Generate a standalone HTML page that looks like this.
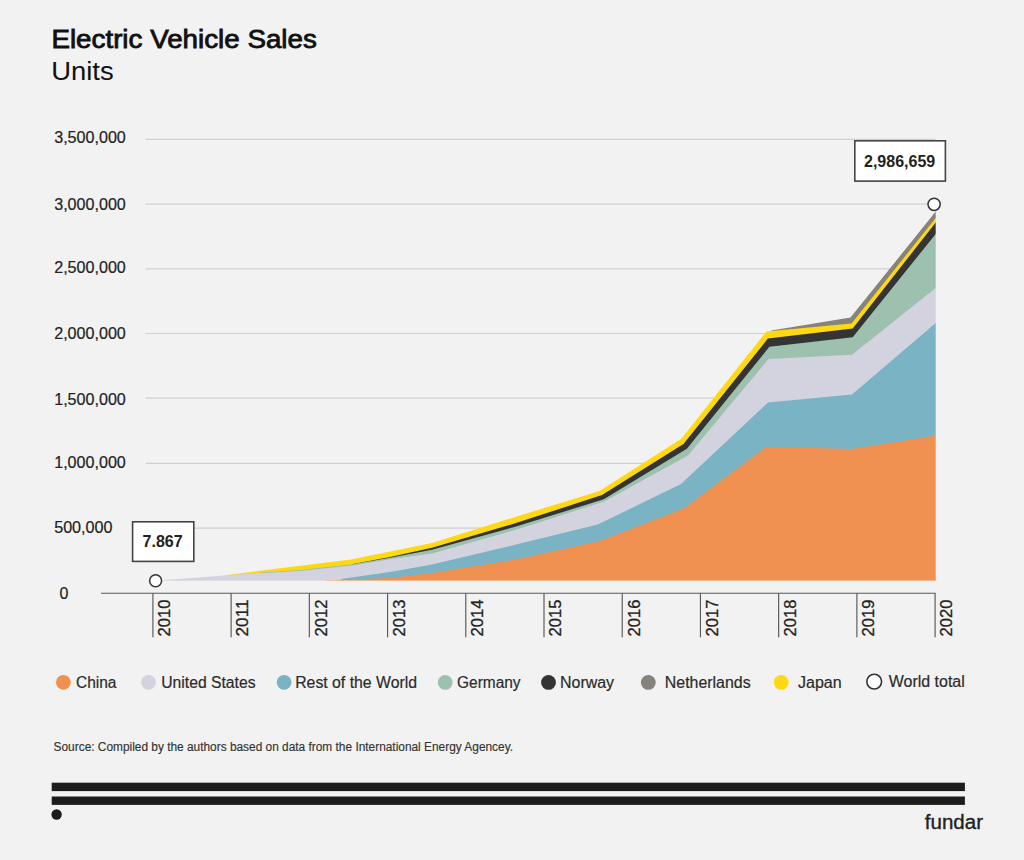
<!DOCTYPE html>
<html><head><meta charset="utf-8"><title>Electric Vehicle Sales</title>
<style>
html,body{margin:0;padding:0;background:#f2f2f2;}
body{width:1024px;height:860px;overflow:hidden;font-family:"Liberation Sans",sans-serif;}
svg{display:block}
text{font-family:"Liberation Sans",sans-serif;fill:#1f1f1f}
.ttl{font-size:25px;fill:#111;stroke:#111;stroke-width:.8px;stroke-linejoin:miter}
.sub{font-size:25px;fill:#111}
.yl{font-size:16px;fill:#222;stroke:#222;stroke-width:.2px}
.yr{font-size:16px;fill:#222;stroke:#222;stroke-width:.3px}
.lg{font-size:16px;fill:#2b2b2b;stroke:#2b2b2b;stroke-width:.2px}
.bx{font-size:16px;font-weight:bold;fill:#222}
.src{font-size:12px;fill:#333;stroke:#333;stroke-width:.15px}
.fd{font-size:20px;fill:#222;stroke:#222;stroke-width:.35px}
</style></head>
<body>
<svg width="1024" height="860" viewBox="0 0 1024 860">
<rect width="1024" height="860" fill="#f2f2f2"/>
<text x="51.4" y="48.0" class="ttl" textLength="265.5" lengthAdjust="spacingAndGlyphs">Electric Vehicle Sales</text>
<text x="51.2" y="79.6" class="sub" textLength="62.5" lengthAdjust="spacingAndGlyphs">Units</text>
<line x1="145.6" y1="139.3" x2="935.5" y2="139.3" stroke="#cfcfcf" stroke-width="1.2"/>
<line x1="145.6" y1="204.1" x2="935.5" y2="204.1" stroke="#cfcfcf" stroke-width="1.2"/>
<line x1="145.6" y1="268.8" x2="935.5" y2="268.8" stroke="#cfcfcf" stroke-width="1.2"/>
<line x1="145.6" y1="333.5" x2="935.5" y2="333.5" stroke="#cfcfcf" stroke-width="1.2"/>
<line x1="145.6" y1="398.2" x2="935.5" y2="398.2" stroke="#cfcfcf" stroke-width="1.2"/>
<line x1="145.6" y1="463.4" x2="935.5" y2="463.4" stroke="#cfcfcf" stroke-width="1.2"/>
<line x1="145.6" y1="528.1" x2="935.5" y2="528.1" stroke="#cfcfcf" stroke-width="1.2"/>
<text x="54.2" y="142.5" class="yl" textLength="71.6" lengthAdjust="spacingAndGlyphs">3,500,000</text>
<text x="54.2" y="209.6" class="yl" textLength="71.6" lengthAdjust="spacingAndGlyphs">3,000,000</text>
<text x="54.2" y="272.6" class="yl" textLength="71.6" lengthAdjust="spacingAndGlyphs">2,500,000</text>
<text x="54.2" y="339.0" class="yl" textLength="71.6" lengthAdjust="spacingAndGlyphs">2,000,000</text>
<text x="54.2" y="404.7" class="yl" textLength="71.6" lengthAdjust="spacingAndGlyphs">1,500,000</text>
<text x="54.2" y="468.4" class="yl" textLength="71.6" lengthAdjust="spacingAndGlyphs">1,000,000</text>
<text x="54.2" y="532.6" class="yl" textLength="58.3" lengthAdjust="spacingAndGlyphs">500,000</text>
<text x="59.5" y="599.0" class="yl">0</text>
<polygon points="771.3,330.5 850.5,317.5 935.7,211.6 937.7,209.1 937.7,582.6 771.3,582.6" fill="#86837c"/>
<polygon points="225.8,575.2 264.0,570.2 300.0,565.7 351.0,559.6 432.0,543.0 516.0,516.7 599.5,491.0 681.3,438.7 766.4,331.6 851.6,323.4 935.7,218.0 937.7,215.5 937.7,582.6 225.8,582.6" fill="#ffd814"/>
<polygon points="352.0,564.3 390.0,556.9 432.0,547.8 516.0,523.1 602.0,495.0 683.5,443.9 767.9,338.6 852.7,328.6 935.7,222.4 937.7,219.8 937.7,582.6 352.0,582.6" fill="#343434"/>
<polygon points="260.0,572.6 300.0,569.9 352.0,564.3 390.0,557.7 432.0,549.7 516.0,526.6 603.8,499.3 686.9,448.7 769.4,346.8 852.7,337.2 935.7,234.0 937.7,231.5 937.7,582.6 260.0,582.6" fill="#9dc1ae"/>
<polygon points="163.0,580.0 200.0,577.5 225.8,575.2 264.0,573.0 300.0,570.9 352.0,565.6 390.0,559.3 432.0,553.4 516.0,529.8 604.3,501.5 688.0,455.4 768.6,359.1 852.0,354.7 935.7,288.0 937.7,286.4 937.7,582.6 163.0,582.6" fill="#d3d3df"/>
<polygon points="341.0,579.0 390.0,572.0 432.0,564.6 516.0,544.6 597.8,524.5 681.0,484.0 768.0,402.5 852.0,394.5 935.7,323.0 937.7,321.3 937.7,582.6 341.0,582.6" fill="#7ab3c4"/>
<polygon points="325.0,580.4 390.0,577.9 432.0,573.1 516.0,559.5 600.0,541.0 684.0,508.5 766.0,447.0 852.0,449.0 935.7,435.7 937.7,435.4 937.7,582.6 325.0,582.6" fill="#f09151"/>
<rect x="150" y="580.6" width="800" height="4" fill="#f2f2f2"/>
<rect x="935.7" y="200" width="4" height="385" fill="#f2f2f2"/>
<line x1="101" y1="593.2" x2="935.6" y2="593.2" stroke="#585858" stroke-width="1.15"/>
<line x1="152.90" y1="593.2" x2="152.90" y2="637.3" stroke="#585858" stroke-width="1.15"/>
<line x1="231.12" y1="593.2" x2="231.12" y2="637.3" stroke="#585858" stroke-width="1.15"/>
<line x1="309.34" y1="593.2" x2="309.34" y2="637.3" stroke="#585858" stroke-width="1.15"/>
<line x1="387.56" y1="593.2" x2="387.56" y2="637.3" stroke="#585858" stroke-width="1.15"/>
<line x1="465.78" y1="593.2" x2="465.78" y2="637.3" stroke="#585858" stroke-width="1.15"/>
<line x1="544.00" y1="593.2" x2="544.00" y2="637.3" stroke="#585858" stroke-width="1.15"/>
<line x1="622.22" y1="593.2" x2="622.22" y2="637.3" stroke="#585858" stroke-width="1.15"/>
<line x1="700.44" y1="593.2" x2="700.44" y2="637.3" stroke="#585858" stroke-width="1.15"/>
<line x1="778.66" y1="593.2" x2="778.66" y2="637.3" stroke="#585858" stroke-width="1.15"/>
<line x1="856.88" y1="593.2" x2="856.88" y2="637.3" stroke="#585858" stroke-width="1.15"/>
<line x1="935.10" y1="593.2" x2="935.10" y2="637.3" stroke="#585858" stroke-width="1.15"/>
<text class="yr" textLength="36.8" lengthAdjust="spacingAndGlyphs" transform="translate(170.20,636.4) rotate(-90)">2010</text>
<text class="yr" textLength="36.8" lengthAdjust="spacingAndGlyphs" transform="translate(248.42,636.4) rotate(-90)">2011</text>
<text class="yr" textLength="36.8" lengthAdjust="spacingAndGlyphs" transform="translate(326.64,636.4) rotate(-90)">2012</text>
<text class="yr" textLength="36.8" lengthAdjust="spacingAndGlyphs" transform="translate(404.86,636.4) rotate(-90)">2013</text>
<text class="yr" textLength="36.8" lengthAdjust="spacingAndGlyphs" transform="translate(483.08,636.4) rotate(-90)">2014</text>
<text class="yr" textLength="36.8" lengthAdjust="spacingAndGlyphs" transform="translate(561.30,636.4) rotate(-90)">2015</text>
<text class="yr" textLength="36.8" lengthAdjust="spacingAndGlyphs" transform="translate(639.52,636.4) rotate(-90)">2016</text>
<text class="yr" textLength="36.8" lengthAdjust="spacingAndGlyphs" transform="translate(717.74,636.4) rotate(-90)">2017</text>
<text class="yr" textLength="36.8" lengthAdjust="spacingAndGlyphs" transform="translate(795.96,636.4) rotate(-90)">2018</text>
<text class="yr" textLength="36.8" lengthAdjust="spacingAndGlyphs" transform="translate(874.18,636.4) rotate(-90)">2019</text>
<text class="yr" textLength="36.8" lengthAdjust="spacingAndGlyphs" transform="translate(952.40,636.4) rotate(-90)">2020</text>
<rect x="132.6" y="521.8" width="61.2" height="39.6" fill="#fff" stroke="#444" stroke-width="1.6"/>
<text x="142.6" y="547.2" class="bx">7.867</text>
<circle cx="155.6" cy="580.7" r="6.0" fill="#fff" stroke="#333" stroke-width="1.5"/>
<rect x="854.8" y="140.8" width="90.6" height="40.3" fill="#fff" stroke="#444" stroke-width="1.6"/>
<text x="864.0" y="166.6" class="bx">2,986,659</text>
<circle cx="934.1" cy="204.3" r="6.1" fill="#fff" stroke="#333" stroke-width="1.5"/>
<circle cx="63.4" cy="682.3" r="7.4" fill="#f09151"/>
<text x="76.0" y="688.0" class="lg" textLength="40.5" lengthAdjust="spacingAndGlyphs">China</text>
<circle cx="148.6" cy="682.3" r="7.4" fill="#d3d3df"/>
<text x="161.2" y="688.0" class="lg" textLength="94.4" lengthAdjust="spacingAndGlyphs">United States</text>
<circle cx="284.1" cy="682.3" r="7.4" fill="#7ab3c4"/>
<text x="295.2" y="688.0" class="lg" textLength="121.8" lengthAdjust="spacingAndGlyphs">Rest of the World</text>
<circle cx="445.2" cy="682.4" r="7.4" fill="#9dc1ae"/>
<text x="457.0" y="688.0" class="lg" textLength="63.6" lengthAdjust="spacingAndGlyphs">Germany</text>
<circle cx="548.5" cy="682.4" r="7.4" fill="#343434"/>
<text x="560.0" y="688.0" class="lg" textLength="54.1" lengthAdjust="spacingAndGlyphs">Norway</text>
<circle cx="648.3" cy="682.4" r="7.4" fill="#86837c"/>
<text x="664.8" y="688.0" class="lg" textLength="85.8" lengthAdjust="spacingAndGlyphs">Netherlands</text>
<circle cx="781.2" cy="682.4" r="7.4" fill="#ffd814"/>
<text x="798.0" y="688.0" class="lg" textLength="43.6" lengthAdjust="spacingAndGlyphs">Japan</text>
<circle cx="874.2" cy="681.6" r="7.4" fill="#fff" stroke="#333" stroke-width="1.6"/>
<text x="888.8" y="687.4" class="lg" textLength="76" lengthAdjust="spacingAndGlyphs">World total</text>

<text x="53.6" y="750.7" class="src" textLength="459.4" lengthAdjust="spacingAndGlyphs">Source: Compiled by the authors based on data from the International Energy Agencey.</text>
<rect x="51.7" y="782.7" width="913.2" height="8.4" fill="#1d1d1d"/>
<rect x="51.7" y="796.5" width="913.2" height="8.4" fill="#1d1d1d"/>
<circle cx="56.6" cy="814.5" r="5.2" fill="#1d1d1d"/>
<text x="924.8" y="829" class="fd" textLength="58.2" lengthAdjust="spacingAndGlyphs">fundar</text>
</svg>
</body></html>
